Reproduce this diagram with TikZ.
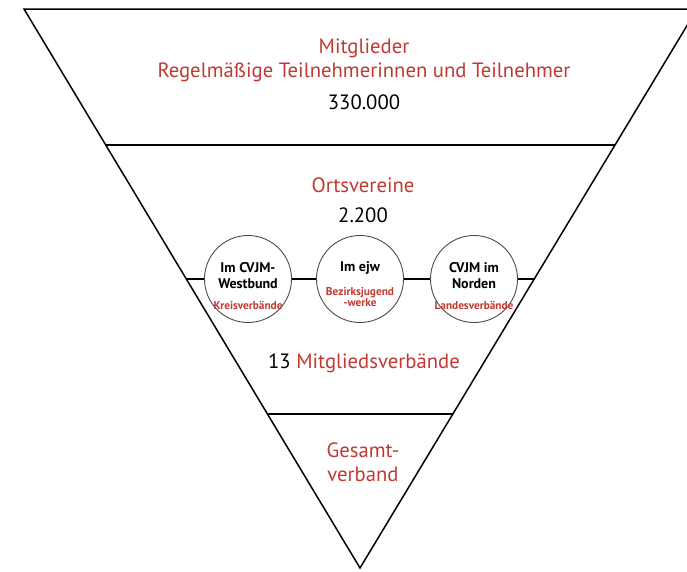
\documentclass[tikz,border=0pt]{standalone}
\usepackage{fontspec}
\setmainfont{PT Sans}
\usetikzlibrary{calc}
\definecolor{myred}{RGB}{192,57,50}
\begin{document}
\begin{tikzpicture}[x=1pt,y=-1pt,
  edge/.style={line width=1.5pt, black},
  sep/.style={line width=1.3pt, black},
  circ/.style={circle, draw=black!70, line width=0.9pt, fill=white, minimum size=87pt, inner sep=0pt},
  big/.style={font=\fontsize{20.7}{24}\selectfont, align=center, inner sep=0pt},
  small/.style={font=\bfseries\fontsize{14}{16}\selectfont, align=center, inner sep=0pt},
  tiny/.style={font=\bfseries\fontsize{11.3}{11.5}\selectfont, text=myred, align=center, inner sep=0pt}]
\useasboundingbox (0,0) rectangle (687,571);
\coordinate (TL) at (24,9);
\coordinate (TR) at (697,9);
\coordinate (B) at (360,568);
\coordinate (L1) at ($(TL)!0.2433!(B)$);
\coordinate (R1) at ($(TR)!0.2433!(B)$);
\coordinate (L2) at ($(TL)!0.4830!(B)$);
\coordinate (R2) at ($(TR)!0.4830!(B)$);
\coordinate (L3) at ($(TL)!0.7245!(B)$);
\coordinate (R3) at ($(TR)!0.7245!(B)$);
\begin{scope}
\clip (0,0) rectangle (687,571);
\draw[edge, line join=miter] (TL) -- (TR) -- (B) -- cycle;
\draw[sep] (L1) -- (R1);
\draw[sep] (L2) -- (R2);
\draw[sep] (L3) -- (R3);
\end{scope}
% circles
\node[circ] (c1) at (248,279) {};
\node[circ] (c2) at (360,279) {};
\node[circ] (c3) at (474,279) {};
\node[small] (c1a) at (248,276) {Im CVJM-\\Westbund};
\node[tiny] (c1b) at (248,305) {Kreisverbände};
\node[small] (c2a) at (360,268) {Im ejw};
\node[tiny] (c2b) at (360,297) {Bezirksjugend\\-werke};
\node[small] (c3a) at (474,276) {CVJM im\\Norden};
\node[tiny] (c3b) at (474,305) {Landesverbände};
% texts
\node[big, text=myred] (t1) at (364,60) {Mitglieder\\Regelmäßige Teilnehmerinnen und Teilnehmer};
\node[big] (t2) at (364,102) {330.000};
\node[big, text=myred] (t3) at (363,185) {Ortsvereine};
\node[big] (t4) at (363,215) {2.200};
\node[big] (t5) at (364,363) {13 {\color{myred}Mitgliedsverbände}};
\node[big, text=myred] (t6) at (363,462) {Gesamt-\\verband};
\end{tikzpicture}
\end{document}
